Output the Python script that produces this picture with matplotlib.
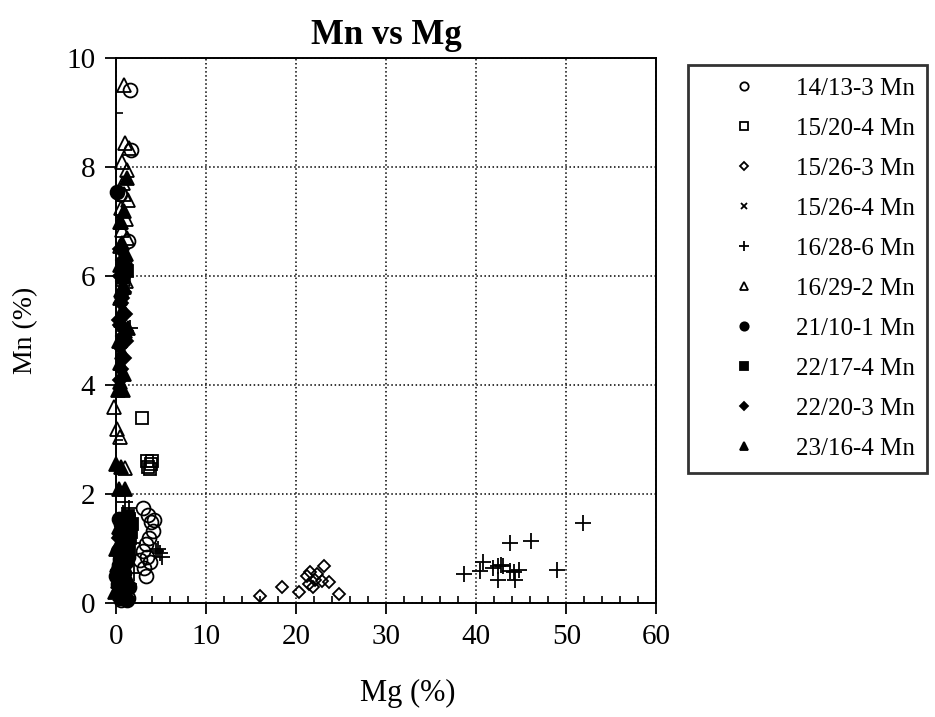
import matplotlib
matplotlib.use("Agg")
import matplotlib.pyplot as plt
from matplotlib.ticker import MultipleLocator

plt.rcParams['font.family'] = ['Liberation Serif', 'DejaVu Serif']

# ---- data (Mg %, Mn %) ----
labels = ["14/13-3 Mn", "15/20-4 Mn", "15/26-3 Mn", "15/26-4 Mn", "16/28-6 Mn",
          "16/29-2 Mn", "21/10-1 Mn", "22/17-4 Mn", "22/20-3 Mn", "23/16-4 Mn"]

mg_14_13_3 = [1.6, 1.7, 1.3, 0.4, 3.0, 3.6, 3.9, 4.1, 3.7, 3.3, 3.0, 3.5, 3.8, 3.1, 2.7, 4.2, 0.6, 1.3, 3.3]
mn_14_13_3 = [9.42, 8.32, 6.65, 7.5, 1.75, 1.62, 1.48, 1.33, 1.2, 1.08, 0.95, 0.85, 0.75, 0.65, 0.78, 1.52, 0.05, 0.1, 0.5]

mg_15_20_4 = [2.9, 3.5, 3.9, 4.0, 3.8, 3.6]
mn_15_20_4 = [3.4, 2.6, 2.55, 2.6, 2.45, 2.5]

mg_15_26_3 = [16.0, 18.4, 20.3, 21.2, 21.4, 21.9, 21.6, 22.3, 22.1, 22.9, 23.1, 23.7, 24.8]
mn_15_26_3 = [0.13, 0.3, 0.2, 0.5, 0.34, 0.29, 0.56, 0.54, 0.42, 0.4, 0.68, 0.39, 0.16]

mg_15_26_4 = [0.3, 0.6, 0.9, 1.2]
mn_15_26_4 = [0.15, 0.3, 0.05, 0.2]

mg_16_28_6 = [38.6, 40.4, 40.8, 41.9, 42.4, 42.7, 43.0, 42.4, 43.7, 43.8, 44.2, 44.3, 44.7, 46.1, 49.0, 51.9,
              1.0, 1.5, 0.8, 4.9, 4.4, 5.1, 4.7, 1.9, 2.0, 1.4, 1.6, 1.1]
mn_16_28_6 = [0.54, 0.59, 0.76, 0.64, 0.68, 0.7, 0.67, 0.43, 1.1, 0.59, 0.56, 0.42, 0.6, 1.14, 0.6, 1.47,
              1.85, 1.75, 1.65, 0.92, 0.95, 0.85, 1.0, 1.1, 0.55, 0.35, 5.05, 5.0]

mg_16_29_2 = [0.9, 1.0, 1.4, 0.7, 1.2, 0.8, 1.3, 0.6, 1.1, 0.7, 1.2, 0.5, 1.0, 0.8, 0.6, 1.1,
              -0.2, 0.15, 0.45, 1.0, 0.4, 0.9]
mn_16_29_2 = [9.5, 8.45, 8.35, 8.1, 7.95, 7.7, 7.4, 7.25, 7.05, 6.85, 6.7, 6.55, 6.35, 5.95, 5.75, 5.9,
              3.6, 3.2, 3.05, 2.48, 7.0, 7.5]

mg_21_10_1 = [0.3, 0.6, 0.9, 0.4, 1.0, 0.7, 0.2, 0.8, 0.5, 1.1, 0.3, 0.7, 0.9, 0.4, 0.6, 1.0, 0.2, 0.8,
              0.5, 0.9, 0.3, 0.6, 1.2, 0.7, 0.4, 0.1, 1.3, 0.0, 1.4]
mn_21_10_1 = [1.55, 1.45, 1.35, 1.25, 1.15, 1.05, 0.95, 0.9, 0.8, 0.75, 0.7, 0.6, 0.55, 0.5, 0.45, 0.4, 0.35, 0.3,
              0.25, 0.2, 0.15, 0.1, 0.05, 0.7, 1.0, 7.55, 0.85, 0.5, 0.3]

mg_22_17_4 = [0.7, 1.2, 0.9, 1.3, 1.5, 1.2, 1.4, 1.6, 1.3, 1.5, 1.2, 1.4, 1.1, 1.8, 1.7]
mn_22_17_4 = [6.1, 6.1, 6.05, 1.6, 1.5, 1.4, 1.3, 1.2, 1.1, 1.0, 0.9, 1.55, 1.25, 1.45, 1.3]

mg_22_20_3 = [0.5, 0.8, 0.4, 0.9, 0.6, 1.0, 0.5, 0.8, 0.4, 0.9, 0.6, 0.5, 0.8, 0.3, 0.3, 0.6, 0.2, 0.5,
              1.1, 0.7, 1.0]
mn_22_20_3 = [6.5, 6.3, 6.0, 5.7, 5.5, 5.3, 5.1, 4.9, 4.7, 4.5, 4.3, 4.1, 5.9, 5.2, 1.2, 0.9, 0.6, 0.3,
              4.8, 5.6, 6.2]

mg_23_16_4 = [0.3, 1.0, 0.0, 0.6, 0.2, 0.8, 0.4, 0.9, 0.5, 0.7, 0.3, 1.0, 0.6, 0.8, 0.4, 0.9, 0.5, 1.1,
              0.7, 1.2, 0.6, 0.9, 1.3, 0.8, 0.0, 0.2, 0.1, -0.1, 0.3]
mn_23_16_4 = [2.1, 2.1, 2.55, 2.5, 3.9, 3.9, 4.05, 4.2, 4.4, 4.6, 4.8, 5.0, 5.2, 5.4, 5.6, 5.8, 6.2, 6.4,
              6.6, 7.8, 7.0, 7.2, 5.05, 6.0, 1.0, 0.4, 0.7, 0.2, 1.4]

series = [
    (mg_14_13_3, mn_14_13_3, dict(marker='o', ms=10, mfc='none')),
    (mg_15_20_4, mn_15_20_4, dict(marker='s', ms=9, mfc='none')),
    (mg_15_26_3, mn_15_26_3, dict(marker='D', ms=6.5, mfc='none')),
    (mg_15_26_4, mn_15_26_4, dict(marker='x', ms=8)),
    (mg_16_28_6, mn_16_28_6, dict(marker='+', ms=11)),
    (mg_16_29_2, mn_16_29_2, dict(marker='^', ms=10, mfc='none')),
    (mg_21_10_1, mn_21_10_1, dict(marker='o', ms=10)),
    (mg_22_17_4, mn_22_17_4, dict(marker='s', ms=9)),
    (mg_22_20_3, mn_22_20_3, dict(marker='D', ms=7)),
    (mg_23_16_4, mn_23_16_4, dict(marker='^', ms=10)),
]

fig = plt.figure(figsize=(9.35, 7.17), dpi=100)
ax = fig.add_axes([0.124, 0.159, 0.578, 0.760])

handles = []
for (x, y, st), lab in zip(series, labels):
    h, = ax.plot(x, y, ls='none', color='black', mec='black', mew=1.3,
                 clip_on=False, label=lab, **st)
    handles.append(h)

ax.set_xlim(0, 60)
ax.set_ylim(0, 10)
ax.xaxis.set_major_locator(MultipleLocator(10))
ax.xaxis.set_minor_locator(MultipleLocator(2))
ax.yaxis.set_major_locator(MultipleLocator(2))
ax.yaxis.set_minor_locator(MultipleLocator(1))
ax.tick_params(which='major', direction='out', length=8, width=1.3, labelsize=21, pad=7)
ax.tick_params(which='minor', direction='in', length=5, width=1.2)
ax.grid(True, which='major', ls=':', color='black', lw=1.1)
for s in ax.spines.values():
    s.set_linewidth(1.4)

ax.set_xlabel("Mg (%)", fontsize=22, labelpad=20)
ax.xaxis.set_label_coords(0.54, -0.14)
ax.set_ylabel("Mn (%)", fontsize=20, labelpad=20)
ax.set_title("Mn vs Mg", fontsize=25, fontweight='bold', pad=10)

leg = fig.legend(handles=handles, loc='upper left', bbox_to_anchor=(0.736, 0.909),
                 fontsize=18, markerscale=0.6, frameon=True, fancybox=False,
                 edgecolor='black', labelspacing=0.70, handlelength=3.5,
                 handletextpad=0.3, borderpad=0.5, borderaxespad=0)
leg.get_frame().set_linewidth(2.0)

fig.savefig("out.png", dpi=100)
